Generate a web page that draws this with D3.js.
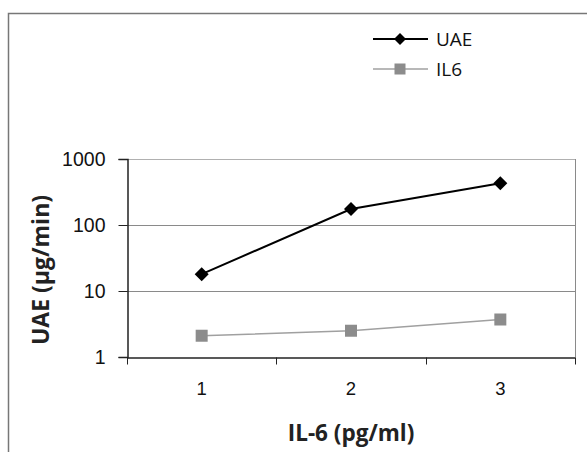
<!DOCTYPE html>
<html>
<head>
<meta charset="utf-8">
<script src="https://cdn.jsdelivr.net/npm/d3@7"></script>
<style>
  html, body { margin: 0; padding: 0; background: #fff; }
</style>
</head>
<body>
<script>
const WIDTH = 587;
const HEIGHT = 452;

// data
const categories = ["1", "2", "3"];
const uae = [18, 175, 430];
const il6 = [2.1, 2.5, 3.7];
const yTicks = [1, 10, 100, 1000];
const series = [
  { name: "UAE", values: uae, line: "#000", marker: "diamond", fill: "#000", width: 2 },
  { name: "IL6", values: il6, line: "#a0a0a0", marker: "square", fill: "#8c8c8c", width: 1.5 }
];

const plot = { left: 127, right: 575, top: 159, bottom: 357 };

const svg = d3.select("body").append("svg")
  .attr("width", WIDTH)
  .attr("height", HEIGHT);

svg.append("rect").attr("width", WIDTH).attr("height", HEIGHT).attr("fill", "#fff");

// outer chart border
svg.append("rect")
  .attr("x", 8.5).attr("y", 13.5)
  .attr("width", WIDTH + 20).attr("height", HEIGHT + 20)
  .attr("fill", "none").attr("stroke", "#777").attr("stroke-width", 1.5);

const x = d3.scaleBand().domain(categories).range([plot.left, plot.right]).padding(0);
const y = d3.scaleLog().domain([1, 1000]).range([plot.bottom, plot.top]);

// gridlines
svg.append("g")
  .selectAll("line")
  .data(yTicks.slice(1))
  .join("line")
  .attr("x1", plot.left).attr("x2", plot.right)
  .attr("y1", d => Math.round(y(d)) + 0.5).attr("y2", d => Math.round(y(d)) + 0.5)
  .attr("stroke", d => d === 1000 ? "#b0b0b0" : "#8a8a8a").attr("stroke-width", 1);

// right edge of plot area
svg.append("line")
  .attr("x1", plot.right + 0.5).attr("x2", plot.right + 0.5)
  .attr("y1", plot.top).attr("y2", plot.bottom)
  .attr("stroke", "#8a8a8a");

// y axis
const yAxis = svg.append("g")
  .attr("transform", `translate(${plot.left + 0.5},0)`)
  .call(d3.axisLeft(y).tickValues(yTicks).tickFormat(d3.format("d")).tickSize(9).tickPadding(13));
yAxis.selectAll(".domain").attr("stroke", "#222").attr("stroke-width", 1.5);
yAxis.selectAll(".tick line").attr("stroke", "#222");
yAxis.selectAll("text")
  .attr("fill", "#111")
  .attr("font-size", "19.5px")
  .attr("font-family", "'Liberation Sans', Arial, sans-serif");

// x axis with ticks on category boundaries
const xAxis = svg.append("g")
  .attr("transform", `translate(0,${plot.bottom + 0.5})`)
  .call(d3.axisBottom(x).tickSize(0).tickPadding(24));
xAxis.selectAll(".domain").attr("stroke", "#222").attr("stroke-width", 1.5);
xAxis.selectAll("text")
  .attr("fill", "#111")
  .attr("font-size", "18.5px")
  .attr("font-family", "'Liberation Sans', Arial, sans-serif");
xAxis.selectAll("line.boundary")
  .data(categories.map(c => x(c)).concat([plot.right]))
  .join("line")
  .attr("class", "boundary")
  .attr("x1", d => Math.round(d) + 0.5).attr("x2", d => Math.round(d) + 0.5)
  .attr("y1", 0).attr("y2", 7)
  .attr("stroke", "#222");

// lines + markers
const lineGen = d3.line()
  .x((d, i) => x(categories[i]) + x.bandwidth() / 2)
  .y(d => y(d));

function marker(g, type, fill, cx, cy, s) {
  if (type === "diamond") {
    g.append("path")
      .attr("d", `M${cx},${cy - s}L${cx + s},${cy}L${cx},${cy + s}L${cx - s},${cy}Z`)
      .attr("fill", fill);
  } else {
    g.append("rect")
      .attr("x", cx - s).attr("y", cy - s)
      .attr("width", 2 * s).attr("height", 2 * s)
      .attr("fill", fill);
  }
}

series.forEach(s => {
  svg.append("path")
    .datum(s.values)
    .attr("d", lineGen)
    .attr("fill", "none")
    .attr("stroke", s.line)
    .attr("stroke-width", s.width);
  const g = svg.append("g");
  s.values.forEach((v, i) => {
    marker(g, s.marker, s.fill, x(categories[i]) + x.bandwidth() / 2, y(v), s.marker === "diamond" ? 7 : 6);
  });
});

// legend
const legend = svg.append("g").attr("transform", "translate(373,39)");
series.forEach((s, i) => {
  const row = legend.append("g").attr("transform", `translate(0,${i * 30})`);
  row.append("line")
    .attr("x1", 0).attr("x2", 55).attr("y1", 0).attr("y2", 0)
    .attr("stroke", s.line).attr("stroke-width", s.width);
  marker(row, s.marker, s.fill, 27, 0, s.marker === "diamond" ? 6 : 5.5);
  row.append("text")
    .attr("x", 63).attr("y", 7)
    .attr("fill", "#111")
    .attr("font-size", "19px")
    .attr("font-family", "'Open Sans', sans-serif")
    .text(s.name);
});

// axis titles
svg.append("text")
  .attr("x", (plot.left + plot.right) / 2).attr("y", 441)
  .attr("text-anchor", "middle")
  .attr("font-size", "22.5px").attr("font-weight", "bold")
  .attr("font-family", "'Open Sans', sans-serif")
  .attr("fill", "#222")
  .text("IL-6 (pg/ml)");

svg.append("text")
  .attr("transform", "translate(49,270) rotate(-90)")
  .attr("text-anchor", "middle")
  .attr("font-size", "23px").attr("font-weight", "bold")
  .attr("font-family", "'Open Sans', sans-serif")
  .attr("fill", "#222")
  .text("UAE (µg/min)");
</script>
</body>
</html>
